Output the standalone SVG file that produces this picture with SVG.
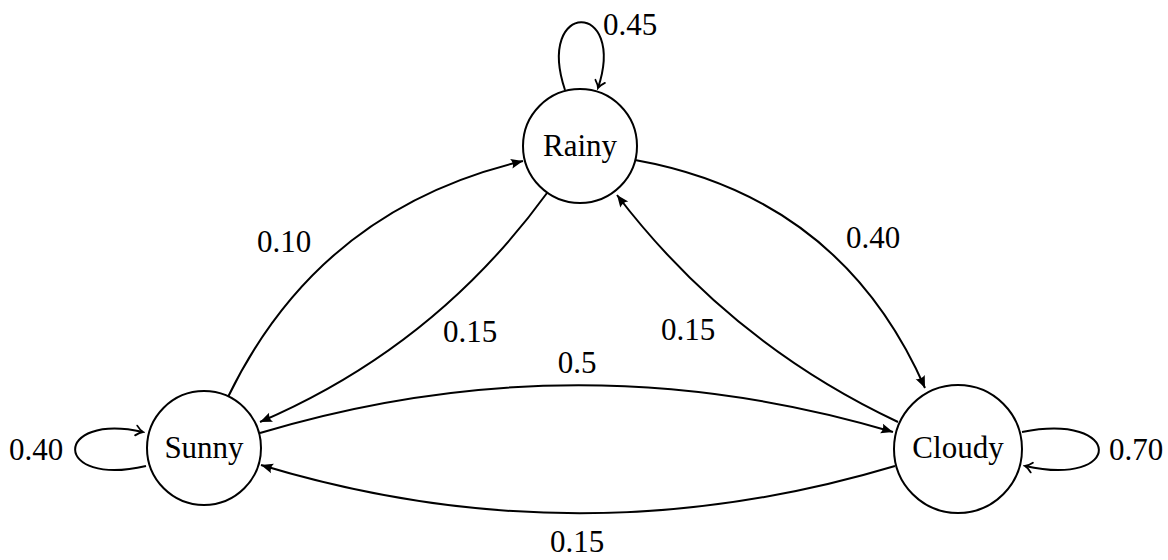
<svg xmlns="http://www.w3.org/2000/svg" width="1168" height="560" viewBox="0 0 1168 560">
<style>
.node{fill:#fff;stroke:#000;stroke-width:2}
.lbl{font-family:"Liberation Serif","DejaVu Serif",serif;font-size:31px;fill:#000;text-anchor:middle}
.e{fill:none;stroke:#000;stroke-width:2;marker-end:url(#tip)}
.l{fill:none;stroke:#000;stroke-width:2;marker-end:url(#open)}
</style>
<defs>
<marker id="tip" markerUnits="userSpaceOnUse" viewBox="-13 -6 14 12" refX="0" refY="0" markerWidth="14" markerHeight="12" orient="auto">
<path d="M0,0 L-12,-5 Q-9,0 -12,5 Z" fill="#000"/>
</marker>
<marker id="open" markerUnits="userSpaceOnUse" viewBox="-10 -7 12 14" refX="0" refY="0" markerWidth="12" markerHeight="14" orient="auto">
<path d="M-7,-5 Q-3,-1 0,0 Q-3,1 -7,5" fill="none" stroke="#000" stroke-width="1.8" stroke-linecap="round"/>
</marker>
</defs>
<rect width="1168" height="560" fill="#fff"/>
<g id="connectors">
<path class="l" d="M565,90 C535,0 627,0 598,88"/>
<path class="l" d="M146,466 C52,488 52,412 143,432"/>
<path class="l" d="M1022,432 C1124,412 1124,488 1025,466"/>
<path class="e" d="M228,397 Q319,209 523,161"/>
<path class="e" d="M547,193 Q435,347 260,422"/>
<path class="e" d="M635,160 Q841,197 925,388"/>
<path class="e" d="M898,422 Q730,343 617,195"/>
<path class="e" d="M260,433 Q577,338 893,432"/>
<path class="e" d="M895,466 Q578,561 261,465"/>
<text class="lbl" x="630" y="35">0.45</text>
<text class="lbl" x="36" y="460">0.40</text>
<text class="lbl" x="1136" y="460">0.70</text>
<text class="lbl" x="284" y="252">0.10</text>
<text class="lbl" x="470" y="342">0.15</text>
<text class="lbl" x="873" y="248">0.40</text>
<text class="lbl" x="688" y="340">0.15</text>
<text class="lbl" x="577" y="373">0.5</text>
<text class="lbl" x="577" y="552">0.15</text>
</g>
<g id="rainy">
<circle class="node" cx="580" cy="146" r="57"/>
<text class="lbl" x="580" y="156">Rainy</text>
</g>
<g id="sunny">
<circle class="node" cx="204" cy="448" r="57"/>
<text class="lbl" x="204" y="458">Sunny</text>
</g>
<g id="cloudy">
<circle class="node" cx="958" cy="449" r="64"/>
<text class="lbl" x="958" y="458">Cloudy</text>
</g>
</svg>
